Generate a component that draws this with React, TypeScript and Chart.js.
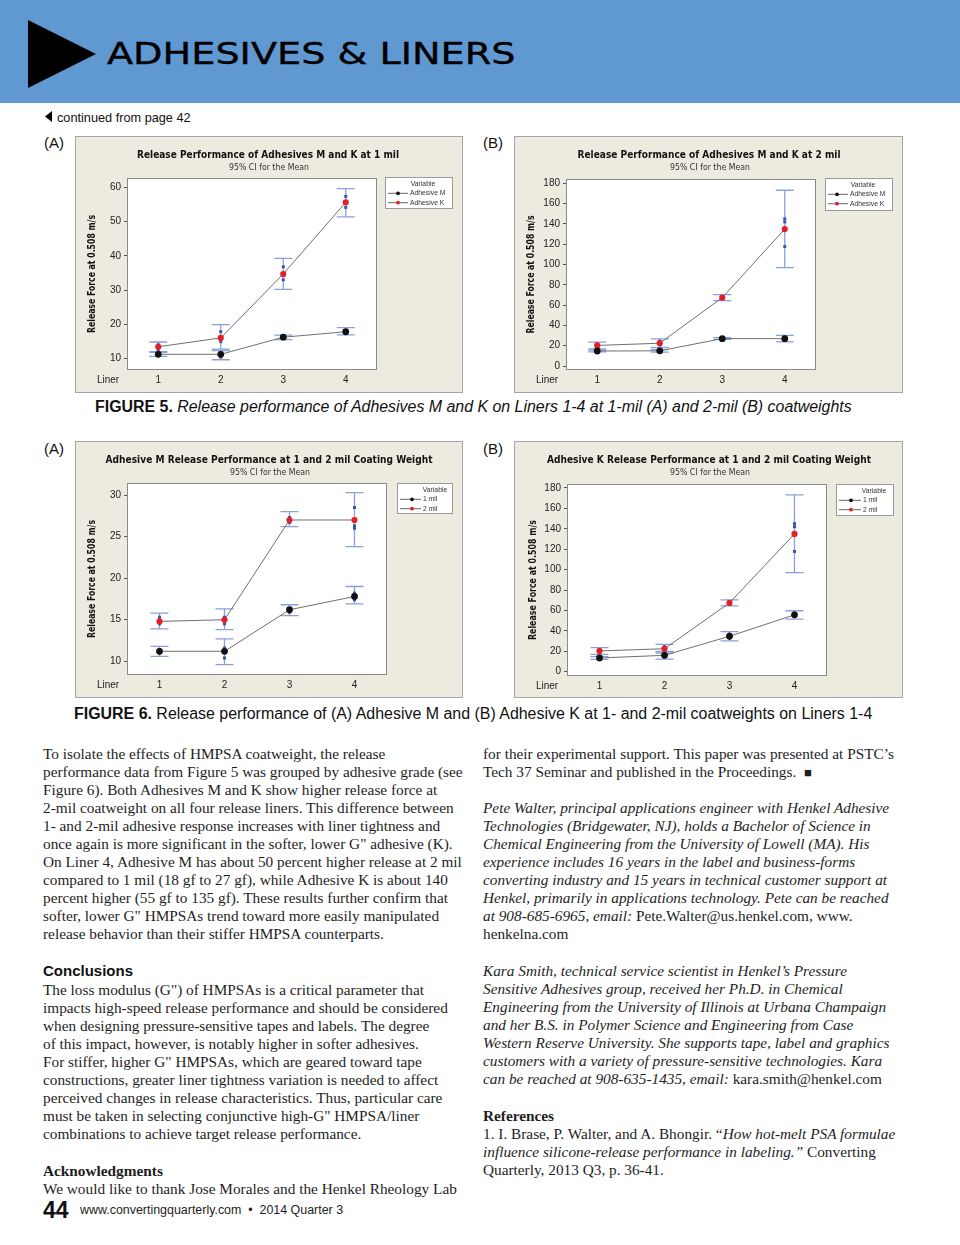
import React, { useEffect, useLayoutEffect, useRef } from 'react';
import { Chart, registerables } from 'chart.js';

Chart.register(...registerables);

// ---------- data ----------
const liners = ['1', '2', '3', '4'];

// Adhesive M, 1 mil
const m1Mean = [11.2, 11.2, 16.2, 17.8];
const m1Low = [10.6, 9.6, 15.5, 16.9];
const m1High = [11.8, 12.7, 16.8, 19.0];
const m1Obs = [[11.0, 11.4], [11.6, 10.4, 11.5], [16.3, 15.9], [18.2, 17.4, 18.0]];

// Adhesive M, 2 mil
const m2Mean = [14.8, 15.0, 27.0, 27.0];
const m2Low = [13.9, 13.8, 26.2, 23.8];
const m2High = [15.8, 16.3, 28.0, 30.3];
const m2Obs = [[15.3, 14.5], [15.3, 14.5], [27.3, 26.7], [28.5, 26.3, 26.0]];

// Adhesive K, 1 mil
const k1Mean = [13.4, 16.0, 34.7, 55.7];
const k1Low = [12.0, 12.3, 30.2, 51.4];
const k1High = [14.8, 19.9, 39.3, 59.7];
const k1Obs = [[13.2, 12.5, 14.0], [17.8, 14.9], [36.8, 33.0], [57.4, 54.2]];

// Adhesive K, 2 mil
const k2Mean = [20.3, 22.5, 67.4, 135.0];
const k2Low = [17.0, 18.3, 64.5, 97.0];
const k2High = [23.5, 26.8, 70.4, 173.2];
const k2Obs = [[21.5, 19.0], [24.5, 21.0], [68.0, 66.5], [145.0, 142.0, 117.8]];

const ticks5A = [10, 20, 30, 40, 50, 60];
const ticks5B = [0, 20, 40, 60, 80, 100, 120, 140, 160, 180];
const ticks6A = [10, 15, 20, 25, 30];
const ticks6B = [0, 20, 40, 60, 80, 100, 120, 140, 160, 180];

// ---------- styling ----------
const SERIF = '"Liberation Serif", "Times New Roman", serif';
const SANS = '"Liberation Sans", Arial, sans-serif';
const DJ = '"DejaVu Sans", sans-serif';
const RED = '#e3202a';
const BLACK = '#111111';
const CI = '#8d9fd9';
const OBS = '#3554aa';

type Series = { label: string; mean: number[]; low: number[]; high: number[]; obs: number[][]; color: string; r: number };
type PanelCfg = {
  w: number; h: number;
  title: string; titleCx: number; titleW: number;
  yMin: number; yMax: number; ticks: number[];
  plot: { l: number; t: number; r: number; b: number };
  legend: { x: number; y: number; w: number; h: number; textDx: number; markDx: number };
  yTitleX: number; yTitleH: number;
  series: Series[];
};

const panel5A: PanelCfg = {
  w: 388, h: 257,
  title: 'Release Performance of Adhesives M and K at 1 mil', titleCx: 193, titleW: 262,
  yMin: 6.6, yMax: 62.8, ticks: ticks5A,
  plot: { l: 52, t: 42, r: 302, b: 234 },
  legend: { x: 310, y: 41, w: 68, h: 32, textDx: 25, markDx: 13 },
  yTitleX: 17, yTitleH: 118,
  series: [
    { label: 'Adhesive M', mean: m1Mean, low: m1Low, high: m1High, obs: m1Obs, color: BLACK, r: 3.4 },
    { label: 'Adhesive K', mean: k1Mean, low: k1Low, high: k1High, obs: k1Obs, color: RED, r: 3.1 },
  ],
};

const panel5B: PanelCfg = {
  w: 389, h: 257,
  title: 'Release Performance of Adhesives M and K at 2 mil', titleCx: 195, titleW: 263,
  yMin: -3.9, yMax: 184.3, ticks: ticks5B,
  plot: { l: 52, t: 43, r: 302, b: 234 },
  legend: { x: 311, y: 42, w: 68, h: 33, textDx: 25, markDx: 12 },
  yTitleX: 17, yTitleH: 118,
  series: [
    { label: 'Adhesive M', mean: m2Mean, low: m2Low, high: m2High, obs: m2Obs, color: BLACK, r: 3.4 },
    { label: 'Adhesive K', mean: k2Mean, low: k2Low, high: k2High, obs: k2Obs, color: RED, r: 3.1 },
  ],
};

const panel6A: PanelCfg = {
  w: 388, h: 257,
  title: 'Adhesive M Release Performance at 1 and 2 mil Coating Weight', titleCx: 194, titleW: 327,
  yMin: 8.35, yMax: 31.45, ticks: ticks6A,
  plot: { l: 52, t: 42, r: 312, b: 234 },
  legend: { x: 322, y: 42, w: 56, h: 31, textDx: 26, markDx: 15 },
  yTitleX: 17, yTitleH: 118,
  series: [
    { label: '1 mil', mean: m1Mean, low: m1Low, high: m1High, obs: m1Obs, color: BLACK, r: 3.4 },
    { label: '2 mil', mean: m2Mean, low: m2Low, high: m2High, obs: m2Obs, color: RED, r: 3.1 },
  ],
};

const panel6B: PanelCfg = {
  w: 389, h: 257,
  title: 'Adhesive K Release Performance at 1 and 2 mil Coating Weight', titleCx: 195, titleW: 324,
  yMin: -4.25, yMax: 183.9, ticks: ticks6B,
  plot: { l: 53, t: 43, r: 313, b: 235 },
  legend: { x: 322, y: 43, w: 58, h: 32, textDx: 27, markDx: 15 },
  yTitleX: 19, yTitleH: 120,
  series: [
    { label: '1 mil', mean: k1Mean, low: k1Low, high: k1High, obs: k1Obs, color: BLACK, r: 3.4 },
    { label: '2 mil', mean: k2Mean, low: k2Low, high: k2High, obs: k2Obs, color: RED, r: 3.1 },
  ],
};

function fitText(ctx: CanvasRenderingContext2D, text: string, cx: number, cy: number, w: number, font: string, rot = 0) {
  ctx.save();
  ctx.font = font;
  ctx.textAlign = 'center';
  ctx.textBaseline = 'middle';
  const m = ctx.measureText(text).width;
  ctx.translate(cx, cy);
  if (rot) ctx.rotate(rot);
  ctx.scale(w / m, 1);
  ctx.fillText(text, 0, 0);
  ctx.restore();
}

function buildConfig(p: PanelCfg) {
  const datasets: any[] = [];
  p.series.forEach((s) => {
    datasets.push({
      label: s.label,
      data: s.mean,
      borderColor: '#707070',
      borderWidth: 1,
      pointRadius: s.r,
      pointHoverRadius: s.r,
      pointBackgroundColor: s.color,
      pointBorderColor: s.color,
      pointBorderWidth: 0,
      tension: 0,
      order: 0,
      ciLow: s.low,
      ciHigh: s.high,
    });
  });
  p.series.forEach((s) => {
    datasets.push({
      label: s.label + ' data',
      data: s.obs.flatMap((arr, i) => arr.map((v) => ({ x: liners[i], y: v }))),
      showLine: false,
      pointStyle: 'rect',
      pointRadius: 2.1,
      pointHoverRadius: 2.1,
      pointBackgroundColor: OBS,
      pointBorderColor: OBS,
      pointBorderWidth: 0,
      order: 1,
    });
  });

  const YW = 30;
  const XH = 20;
  const tickFont = { family: SANS, size: 10 };

  const decor = {
    id: 'decor',
    beforeDraw(chart: any) {
      const { ctx, chartArea: a, width, height } = chart;
      ctx.save();
      ctx.fillStyle = '#edebe0';
      ctx.fillRect(0, 0, width, height);
      ctx.strokeStyle = '#a5a5a5';
      ctx.lineWidth = 1;
      ctx.strokeRect(0.5, 0.5, width - 1, height - 1);
      ctx.fillStyle = '#ffffff';
      ctx.fillRect(a.left, a.top, a.right - a.left, a.bottom - a.top);
      ctx.restore();
    },
    beforeDatasetsDraw(chart: any) {
      const { ctx, chartArea: a } = chart;
      const xs = chart.scales.x;
      const ys = chart.scales.y;
      ctx.save();
      ctx.strokeStyle = '#8a8a8a';
      ctx.lineWidth = 1;
      ctx.strokeRect(Math.round(a.left) + 0.5, Math.round(a.top) + 0.5, Math.round(a.right - a.left) - 1, Math.round(a.bottom - a.top) - 1);
      ctx.strokeStyle = CI;
      ctx.lineWidth = 1.3;
      chart.data.datasets.forEach((ds: any) => {
        if (!ds.ciLow) return;
        ds.ciLow.forEach((lo: number, i: number) => {
          const x = xs.getPixelForValue(i);
          const y1 = ys.getPixelForValue(lo);
          const y2 = ys.getPixelForValue(ds.ciHigh[i]);
          ctx.beginPath();
          ctx.moveTo(x, y1);
          ctx.lineTo(x, y2);
          ctx.moveTo(x - 9, y1);
          ctx.lineTo(x + 9, y1);
          ctx.moveTo(x - 9, y2);
          ctx.lineTo(x + 9, y2);
          ctx.stroke();
        });
      });
      ctx.restore();
    },
    afterDraw(chart: any) {
      const { ctx } = chart;
      ctx.save();
      ctx.fillStyle = '#111';
      fitText(ctx, p.title, p.titleCx, 19, p.titleW, `bold 11px ${DJ}`);
      ctx.fillStyle = '#333';
      fitText(ctx, '95% CI for the Mean', p.titleCx + 1, 31.3, 80, `9.5px ${DJ}`);
      ctx.fillStyle = '#111';
      const midY = (p.plot.t + p.plot.b) / 2;
      fitText(ctx, 'Release Force at 0.508 m/s', p.yTitleX, midY, p.yTitleH, `bold 10.5px ${DJ}`, -Math.PI / 2);
      ctx.fillStyle = '#222';
      ctx.font = `10px ${SANS}`;
      ctx.textAlign = 'center';
      ctx.textBaseline = 'middle';
      ctx.fillText('Liner', 33, p.plot.b + 10);

      // legend
      const L = p.legend;
      ctx.fillStyle = '#ffffff';
      ctx.fillRect(L.x, L.y, L.w, L.h);
      ctx.strokeStyle = '#9a9a9a';
      ctx.lineWidth = 1;
      ctx.strokeRect(L.x + 0.5, L.y + 0.5, L.w - 1, L.h - 1);
      ctx.fillStyle = '#333';
      ctx.font = `6.8px ${SANS}`;
      ctx.textAlign = 'center';
      ctx.fillText('Variable', L.x + 38, L.y + 7.3);
      p.series.forEach((s, i) => {
        const yy = L.y + 16.3 + i * 9.4;
        ctx.strokeStyle = '#555';
        ctx.lineWidth = 0.9;
        ctx.beginPath();
        ctx.moveTo(L.x + 3, yy);
        ctx.lineTo(L.x + L.textDx - 2, yy);
        ctx.stroke();
        ctx.fillStyle = s.color;
        ctx.beginPath();
        ctx.arc(L.x + L.markDx, yy, 1.9, 0, Math.PI * 2);
        ctx.fill();
        ctx.fillStyle = '#333';
        ctx.textAlign = 'left';
        ctx.fillText(s.label, L.x + L.textDx, yy);
      });
      ctx.restore();
    },
  };

  return {
    type: 'line' as const,
    data: { labels: liners, datasets },
    options: {
      responsive: false,
      maintainAspectRatio: false,
      animation: false as const,
      events: [],
      layout: { padding: { left: p.plot.l - YW, top: p.plot.t, right: p.w - p.plot.r, bottom: p.h - p.plot.b - XH } },
      plugins: { legend: { display: false }, title: { display: false }, tooltip: { enabled: false } },
      scales: {
        x: {
          type: 'category' as const,
          offset: true,
          grid: { display: false, drawTicks: false },
          border: { display: false },
          ticks: { padding: 4, color: '#222', font: tickFont, maxRotation: 0 },
          afterFit: (s: any) => { s.height = XH; },
        },
        y: {
          type: 'linear' as const,
          min: p.yMin,
          max: p.yMax,
          grid: { display: true, drawOnChartArea: false, drawTicks: true, tickLength: 3, color: '#555' },
          border: { display: false },
          ticks: { padding: 3, color: '#222', font: tickFont },
          afterBuildTicks: (s: any) => { s.ticks = p.ticks.map((v) => ({ value: v })); },
          afterFit: (s: any) => { s.width = YW; },
        },
      },
    },
    plugins: [decor],
  };
}

function Panel({ cfg, left, top }: { cfg: PanelCfg; left: number; top: number }) {
  const ref = useRef<HTMLCanvasElement>(null);
  useEffect(() => {
    const chart = new Chart(ref.current as HTMLCanvasElement, buildConfig(cfg) as any);
    return () => chart.destroy();
  }, [cfg]);
  return (
    <canvas
      ref={ref}
      width={cfg.w}
      height={cfg.h}
      style={{ position: 'absolute', left, top, width: cfg.w, height: cfg.h, display: 'block' }}
    />
  );
}

function Fit({ x, y, w, style, children }: any) {
  const ref = useRef<HTMLDivElement>(null);
  useLayoutEffect(() => {
    const el = ref.current;
    if (!el) return;
    el.style.transform = 'none';
    const nat = el.offsetWidth;
    if (nat > 0) el.style.transform = `scaleX(${w / nat})`;
  }, [w]);
  return (
    <div
      ref={ref}
      style={{ position: 'absolute', left: x, top: y, whiteSpace: 'nowrap', transformOrigin: '0 0', ...style }}
    >
      {children}
    </div>
  );
}

function Lines({ x, y, lines, style }: any) {
  return (
    <div
      style={{
        position: 'absolute', left: x, top: y, fontFamily: SERIF, fontSize: 15.3,
        lineHeight: '18px', color: '#1e1e1e', whiteSpace: 'nowrap', ...style,
      }}
    >
      {lines.map((l: any, i: number) => (
        <div key={i} style={{ height: 18 }}>{l}</div>
      ))}
    </div>
  );
}

const up = { fontStyle: 'normal' as const };

export default function App() {
  const para1 = [
    'To isolate the effects of HMPSA coatweight, the release',
    'performance data from Figure 5 was grouped by adhesive grade (see',
    'Figure 6). Both Adhesives M and K show higher release force at',
    '2-mil coatweight on all four release liners. This difference between',
    '1- and 2-mil adhesive response increases with liner tightness and',
    'once again is more significant in the softer, lower G" adhesive (K).',
    'On Liner 4, Adhesive M has about 50 percent higher release at 2 mil',
    'compared to 1 mil (18 gf to 27 gf), while Adhesive K is about 140',
    'percent higher (55 gf to 135 gf). These results further confirm that',
    'softer, lower G" HMPSAs trend toward more easily manipulated',
    'release behavior than their stiffer HMPSA counterparts.',
  ];
  const concl = [
    'The loss modulus (G") of HMPSAs is a critical parameter that',
    'impacts high-speed release performance and should be considered',
    'when designing pressure-sensitive tapes and labels. The degree',
    'of this impact, however, is notably higher in softer adhesives.',
    'For stiffer, higher G" HMPSAs, which are geared toward tape',
    'constructions, greater liner tightness variation is needed to affect',
    'perceived changes in release characteristics. Thus, particular care',
    'must be taken in selecting conjunctive high-G" HMPSA/liner',
    'combinations to achieve target release performance.',
  ];
  const right1 = [
    'for their experimental support. This paper was presented at PSTC\u2019s',
    <span>Tech 37 Seminar and published in the Proceedings.{'\u00a0\u00a0'}<span style={{ fontFamily: SANS, fontSize: 13 }}>{'\u25A0'}</span></span>,
  ];
  const pete = [
    'Pete Walter, principal applications engineer with Henkel Adhesive',
    'Technologies (Bridgewater, NJ), holds a Bachelor of Science in',
    'Chemical Engineering from the University of Lowell (MA). His',
    'experience includes 16 years in the label and business-forms',
    'converting industry and 15 years in technical customer support at',
    'Henkel, primarily in applications technology. Pete can be reached',
    <span>at 908-685-6965, email: <span style={up}>Pete.Walter@us.henkel.com, www.</span></span>,
    <span style={up}>henkelna.com</span>,
  ];
  const kara = [
    'Kara Smith, technical service scientist in Henkel\u2019s Pressure',
    'Sensitive Adhesives group, received her Ph.D. in Chemical',
    'Engineering from the University of Illinois at Urbana Champaign',
    'and her B.S. in Polymer Science and Engineering from Case',
    'Western Reserve University. She supports tape, label and graphics',
    'customers with a variety of pressure-sensitive technologies. Kara',
    <span>can be reached at 908-635-1435, email: <span style={up}>kara.smith@henkel.com</span></span>,
  ];
  const refs = [
    <span>1. I. Brase, P. Walter, and A. Bhongir. {'\u201C'}<i>How hot-melt PSA formulae</i></span>,
    <span><i>influence silicone-release performance in labeling.{'\u201D'}</i> Converting</span>,
    'Quarterly, 2013 Q3, p. 36-41.',
  ];

  return (
    <div style={{ position: 'absolute', left: 0, top: 0, width: 960, height: 1245, background: '#ffffff', overflow: 'hidden', color: '#111' }}>
      {/* header */}
      <div style={{ position: 'absolute', left: 0, top: 0, width: 960, height: 103, background: '#6099d1' }} />
      <svg style={{ position: 'absolute', left: 0, top: 0 }} width={120} height={103}>
        <polygon points="28,20 96,54 28,88" fill="#000" />
      </svg>
      <Fit x={107} y={37} w={409} style={{ fontFamily: DJ, fontSize: 31, lineHeight: '32px', color: '#000', letterSpacing: 0, WebkitTextStroke: '0.4px #000' }}>
        ADHESIVES &amp; LINERS
      </Fit>

      <svg style={{ position: 'absolute', left: 44, top: 111 }} width={10} height={12}>
        <polygon points="8,0 8,11 1,5.5" fill="#000" />
      </svg>
      <Fit x={57} y={110} w={134} style={{ fontFamily: SANS, fontSize: 13, lineHeight: '15px', color: '#111' }}>
        continued from page 42
      </Fit>

      {/* figure 5 */}
      <div style={{ position: 'absolute', left: 44, top: 134, fontFamily: SANS, fontSize: 15, lineHeight: '17px' }}>(A)</div>
      <div style={{ position: 'absolute', left: 483, top: 134, fontFamily: SANS, fontSize: 15, lineHeight: '17px' }}>(B)</div>
      <Panel cfg={panel5A} left={75} top={136} />
      <Panel cfg={panel5B} left={514} top={136} />
      <Fit x={95} y={398} w={757} style={{ fontFamily: SANS, fontSize: 16, lineHeight: '18px', color: '#111' }}>
        <b>FIGURE 5.</b> <i>Release performance of Adhesives M and K on Liners 1-4 at 1-mil (A) and 2-mil (B) coatweights</i>
      </Fit>

      {/* figure 6 */}
      <div style={{ position: 'absolute', left: 44, top: 440, fontFamily: SANS, fontSize: 15, lineHeight: '17px' }}>(A)</div>
      <div style={{ position: 'absolute', left: 483, top: 440, fontFamily: SANS, fontSize: 15, lineHeight: '17px' }}>(B)</div>
      <Panel cfg={panel6A} left={75} top={441} />
      <Panel cfg={panel6B} left={514} top={441} />
      <Fit x={74} y={705} w={798} style={{ fontFamily: SANS, fontSize: 16, lineHeight: '18px', color: '#111' }}>
        <b>FIGURE 6.</b> Release performance of (A) Adhesive M and (B) Adhesive K at 1- and 2-mil coatweights on Liners 1-4
      </Fit>

      {/* left column */}
      <Lines x={43} y={745} lines={para1} />
      <div style={{ position: 'absolute', left: 43, top: 962, fontFamily: SANS, fontWeight: 'bold', fontSize: 15, lineHeight: '18px' }}>Conclusions</div>
      <Lines x={43} y={981} lines={concl} />
      <Lines x={43} y={1162} lines={[<b>Acknowledgments</b>]} />
      <Lines x={43} y={1180} lines={['We would like to thank Jose Morales and the Henkel Rheology Lab']} />

      {/* footer */}
      <div style={{ position: 'absolute', left: 43, top: 1199, fontFamily: SANS, fontWeight: 'bold', fontSize: 23, lineHeight: '23px' }}>44</div>
      <Fit x={80} y={1203} w={263} style={{ fontFamily: SANS, fontSize: 12, lineHeight: '14px', color: '#222' }}>
        www.convertingquarterly.com {'\u00a0\u2022\u00a0'} 2014 Quarter 3
      </Fit>

      {/* right column */}
      <Lines x={483} y={745} lines={right1} />
      <Lines x={483} y={799} lines={pete} style={{ fontStyle: 'italic' }} />
      <Lines x={483} y={962} lines={kara} style={{ fontStyle: 'italic' }} />
      <Lines x={483} y={1107} lines={[<b>References</b>]} />
      <Lines x={483} y={1125} lines={refs} />
    </div>
  );
}
